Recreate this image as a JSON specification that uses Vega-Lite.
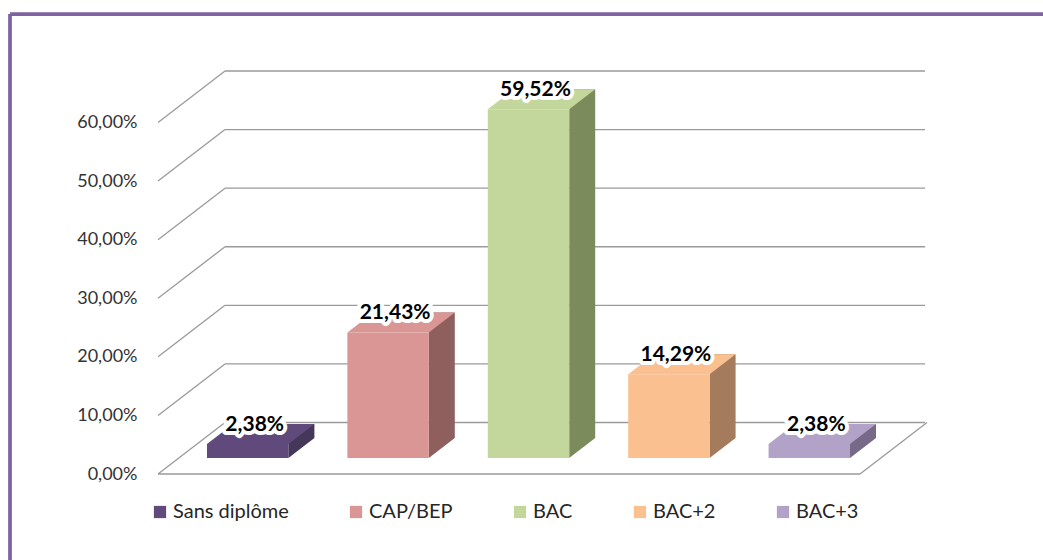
{
  "$schema": "https://vega.github.io/schema/vega-lite/v6.json",
  "width": 1033,
  "height": 546,
  "autosize": {"type": "none"},
  "padding": {"left": 10, "top": 14, "right": 0, "bottom": 0},
  "background": "white",
  "datasets": {
    "levels": [
      {"niveau": "Sans diplôme", "part": 0.0238},
      {"niveau": "CAP/BEP", "part": 0.2143},
      {"niveau": "BAC", "part": 0.5952},
      {"niveau": "BAC+2", "part": 0.1429},
      {"niveau": "BAC+3", "part": 0.0238}
    ],
    "ticks": [{"t": 0}, {"t": 0.1}, {"t": 0.2}, {"t": 0.3}, {"t": 0.4}, {"t": 0.5}, {"t": 0.6}]
  },
  "resolve": {"scale": {"x": "independent"}, "axis": {"x": "independent"}},
  "layer": [
    {
      "data": {"name": "ticks"},
      "layer": [
        {
          "mark": {"type": "rule", "color": "#9A9A9A", "strokeWidth": 1.3, "xOffset": 47.5, "x2Offset": 45.5, "yOffset": -35.5, "y2Offset": -35.5},
          "encoding": {
            "y": {"field": "t", "type": "quantitative", "scale": {"domain": [0, 0.6], "range": [444, 92.5], "nice": false, "zero": true},
              "axis": {"values": [0, 0.1, 0.2, 0.3, 0.4, 0.5, 0.6], "format": ".2%", "offset": -127, "labelPadding": 0, "ticks": false, "domain": false, "grid": false, "title": null, "labelFont": "Lato", "labelFontSize": 18, "labelColor": "#333333", "labelOffset": 16, "labelFlush": false, "labelOverlap": false}},
            "x": {"datum": 0, "type": "quantitative", "scale": {"domain": [0, 1], "range": [167.5, 869.5], "nice": false, "zero": false}, "axis": null},
            "x2": {"datum": 1}
          }
        },
        {
          "mark": {"type": "rule", "color": "#9A9A9A", "strokeWidth": 1.3, "xOffset": -19.5, "x2Offset": 47.5, "yOffset": 16, "y2Offset": -35.5},
          "encoding": {
            "y": {"field": "t", "type": "quantitative"},
            "y2": {"field": "t"},
            "x": {"datum": 0, "type": "quantitative"},
            "x2": {"datum": 0}
          }
        },
        {
          "transform": [{"filter": "datum.t === 0"}],
          "mark": {"type": "rule", "color": "#9A9A9A", "strokeWidth": 1.3, "xOffset": -19.5, "x2Offset": -19.5, "yOffset": 16, "y2Offset": 16},
          "encoding": {
            "y": {"field": "t", "type": "quantitative"},
            "x": {"datum": 0, "type": "quantitative"},
            "x2": {"datum": 1}
          }
        },
        {
          "transform": [{"filter": "datum.t === 0"}],
          "mark": {"type": "rule", "color": "#9A9A9A", "strokeWidth": 1.3, "xOffset": -19.5, "x2Offset": 47.5, "yOffset": 16, "y2Offset": -35.5},
          "encoding": {
            "y": {"field": "t", "type": "quantitative"},
            "y2": {"field": "t"},
            "x": {"datum": 1, "type": "quantitative"},
            "x2": {"datum": 1}
          }
        }
      ]
    },
    {
      "data": {"name": "levels"},
      "encoding": {
        "x": {"field": "niveau", "type": "nominal", "sort": null,
          "scale": {"domain": ["Sans diplôme", "CAP/BEP", "BAC", "BAC+2", "BAC+3"], "range": [167.5, 869.5], "paddingInner": 0.42, "paddingOuter": 0.21},
          "axis": null}
      },
      "layer": [
        {
          "mark": {"type": "bar", "width": 26, "xOffset": 53.7, "yOffset": -20, "y2Offset": -20},
          "encoding": {
            "y": {"field": "part", "type": "quantitative"},
            "y2": {"datum": 0},
            "fill": {"field": "niveau", "type": "nominal", "scale": {"domain": ["BAC+3", "BAC+2", "BAC", "CAP/BEP", "Sans diplôme"], "range": ["#766A88", "#A47C5D", "#7B8B5C", "#8F5F5E", "#45375A"]}, "legend": null}
          }
        },
        {
          "mark": {"type": "point", "filled": true, "size": 10000, "strokeWidth": 0, "opacity": 1, "shape": "M0.814,0L1.334,-0.4L0.814,-0.4Z"},
          "encoding": {
            "y": {"datum": 0, "type": "quantitative"},
            "fill": {"field": "niveau", "type": "nominal", "legend": null}
          }
        },
        {
          "mark": {"type": "bar"},
          "encoding": {
            "y": {"field": "part", "type": "quantitative"},
            "y2": {"datum": 0},
            "color": {"field": "niveau", "type": "nominal",
              "scale": {"domain": ["Sans diplôme", "CAP/BEP", "BAC", "BAC+2", "BAC+3"], "range": ["#604A7B", "#D99694", "#C3D69B", "#FAC090", "#B3A2C7"]},
              "legend": {"orient": "none", "legendX": 140, "legendY": 488, "direction": "horizontal", "title": null, "symbolType": "square", "symbolSize": 150, "symbolStrokeWidth": 0, "symbolOpacity": 1, "labelFont": "Lato", "labelFontSize": 20, "labelColor": "#262626", "columnPadding": 57, "labelOffset": 3}}
          }
        },
        {
          "mark": {"type": "point", "filled": true, "size": 10000, "strokeWidth": 0, "opacity": 1, "shape": "M-0.814,0L0.814,0L1.334,-0.4L-0.294,-0.4Z"},
          "encoding": {
            "y": {"field": "part", "type": "quantitative"},
            "color": {"field": "niveau", "type": "nominal"}
          }
        },
        {
          "mark": {"type": "text", "font": "Lato", "fontWeight": "bold", "fontSize": 21, "align": "center", "baseline": "alphabetic", "dx": 7, "dy": -13, "fill": "white", "stroke": "white", "strokeWidth": 8, "strokeJoin": "round"},
          "encoding": {
            "y": {"field": "part", "type": "quantitative"},
            "text": {"field": "part", "type": "quantitative", "format": ".2%"}
          }
        },
        {
          "mark": {"type": "text", "font": "Lato", "fontWeight": "bold", "fontSize": 21, "align": "center", "baseline": "alphabetic", "dx": 7, "dy": -13, "fill": "#000000"},
          "encoding": {
            "y": {"field": "part", "type": "quantitative"},
            "text": {"field": "part", "type": "quantitative", "format": ".2%"}
          }
        }
      ]
    }
  ],
  "config": {
    "locale": {"number": {"decimal": ",", "thousands": "\u00a0", "grouping": [3], "currency": ["", "\u00a0€"]}},
    "view": {"stroke": "#7E62A2", "strokeWidth": 3.75, "strokeDash": [1033, 1579, 546, 0], "fill": null}
  }
}
